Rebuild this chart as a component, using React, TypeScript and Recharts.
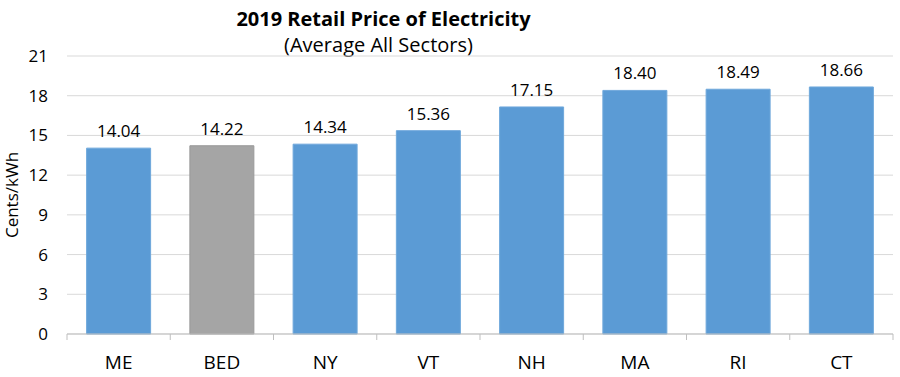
import React from "react";
import { BarChart, Bar, XAxis, YAxis, CartesianGrid, LabelList, Cell } from "recharts";

const categories = ["ME", "BED", "NY", "VT", "NH", "MA", "RI", "CT"];
const prices = [14.04, 14.22, 14.34, 15.36, 17.15, 18.4, 18.49, 18.66];
const yTicks = [0, 3, 6, 9, 12, 15, 18, 21];
const boundaryTicks = [0, 1, 2, 3, 4, 5, 6, 7, 8];
const highlight = "BED";

const data = categories.map((c, i) => ({ name: c, value: prices[i], pos: i + 0.5 }));

const FONT = "'Open Sans', sans-serif";

export default function App() {
  return (
    <div style={{ position: "absolute", left: 0, top: 0, width: 900, height: 377, background: "#fff", fontFamily: FONT }}>
      <div style={{ position: "absolute", left: 0, width: 767, top: 5, textAlign: "center", fontWeight: 700, fontSize: 20, color: "#000" }}>
        2019 Retail Price of Electricity
      </div>
      <div style={{ position: "absolute", left: 0, width: 757, top: 31, textAlign: "center", fontSize: 20, color: "#000" }}>
        (Average All Sectors)
      </div>
      <BarChart
        width={900}
        height={377}
        data={data}
        margin={{ top: 56, right: 7, bottom: 0, left: 0 }}
        barCategoryGap="19%"
        style={{ position: "absolute", left: 0, top: 0 }}
      >
        <CartesianGrid vertical={false} stroke="#D9D9D9" strokeWidth={1} xAxisId="cat" />
        <XAxis
          xAxisId="bound"
          type="number"
          dataKey="pos"
          domain={[0, 8]}
          ticks={boundaryTicks}
          height={1}
          tickFormatter={() => ""}
          axisLine={{ stroke: "#BFBFBF" }}
          tickLine={{ stroke: "#BFBFBF" }}
          tickSize={6}
          allowDataOverflow
        />
        <XAxis
          xAxisId="cat"
          dataKey="name"
          axisLine={false}
          tickLine={false}
          tickMargin={15}
          height={42}
          tick={{ fill: "#000", fontSize: 19, fontFamily: FONT }}
        />
        <YAxis
          domain={[0, 21]}
          ticks={yTicks}
          width={67}
          axisLine={false}
          tickLine={false}
          tickMargin={13}
          tick={{ fill: "#000", fontSize: 17, fontFamily: FONT }}
          label={{ value: "Cents/kWh", angle: -90, position: "insideLeft", dx: 7, style: { fontSize: 17, fill: "#000", fontFamily: FONT, textAnchor: "middle" } }}
        />
        <Bar dataKey="value" xAxisId="cat" isAnimationActive={false}>
          {data.map((d) => (
            <Cell
              key={d.name}
              fill={d.name === highlight ? "#A5A5A5" : "#5B9BD5"}
              stroke={d.name === highlight ? "#999999" : "#6FA8DC"}
              strokeWidth={1}
            />
          ))}
          <LabelList
            dataKey="value"
            position="top"
            offset={11}
            formatter={(v: number) => v.toFixed(2)}
            style={{ fontSize: 17, fill: "#000", fontFamily: FONT }}
          />
        </Bar>
      </BarChart>
    </div>
  );
}
